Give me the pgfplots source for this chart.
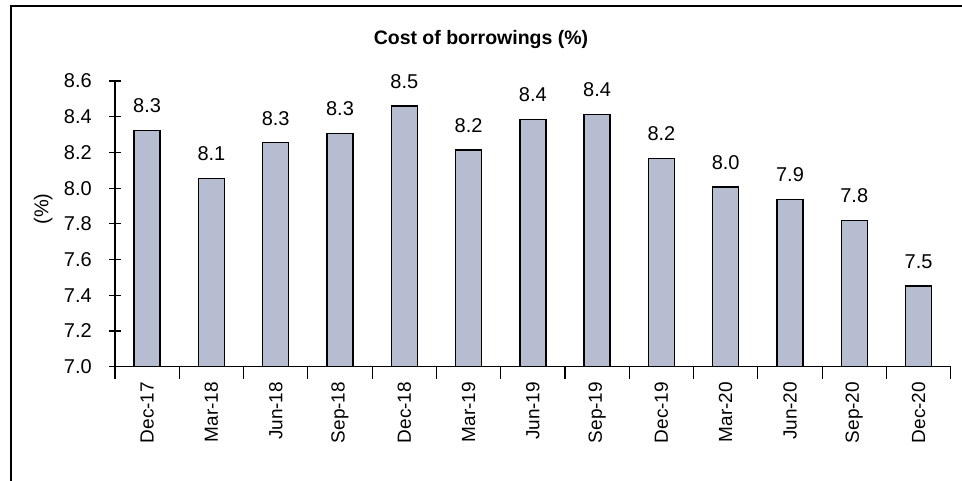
\documentclass[border=0pt]{standalone}
\usepackage{pgfplots}
\pgfplotsset{compat=1.18}
\usepackage{fontspec}
\setmainfont{Liberation Sans}
\definecolor{barfill}{RGB}{183,189,209}
\begin{document}
\begin{tikzpicture}[x=1pt,y=1pt]
\useasboundingbox (0,0) rectangle (962,480);
\draw[line width=1.5pt] (11,-10) -- (11,474) -- (975,474);
\node[font=\fontsize{19.5}{22}\selectfont\bfseries] at (481,440) {Cost of borrowings (\%)};
\begin{axis}[
  at={(115pt,113.3pt)}, anchor=south west,
  scale only axis, width=835.7pt, height=285.7pt,
  xmin=-0.5, xmax=12.5, ymin=7.0, ymax=8.6,
  axis x line=bottom, axis y line=left,
  axis line style={-, line width=1.2pt},
  every tick/.style={black, line width=1.2pt},
  xtick={-0.5,0.5,...,12.5}, xticklabels={},
  extra x ticks={0,...,12},
  extra x tick labels={Dec-17,Mar-18,Jun-18,Sep-18,Dec-18,Mar-19,Jun-19,Sep-19,Dec-19,Mar-20,Jun-20,Sep-20,Dec-20},
  extra x tick style={major tick length=0pt, tick style={draw=none},
    xticklabel style={rotate=90, anchor=east, font=\fontsize{19}{22}\selectfont, inner sep=0pt, xshift=-15pt}},
  ytick={7.0,7.2,...,8.6}, major tick length=12pt,
  yticklabel style={font=\fontsize{20}{22}\selectfont, inner sep=0pt, xshift=-17pt, /pgf/number format/.cd, fixed, fixed zerofill, precision=1, assume math mode=true},
  ylabel={(\%)}, ylabel style={font=\fontsize{20}{22}\selectfont, at={(axis description cs:-0.086,0.552)}, anchor=center},
  tick align=center,
  ybar, bar width=26pt,
  nodes near coords,
  nodes near coords style={font=\fontsize{20}{22}\selectfont, anchor=south, inner sep=0pt, yshift=16.5pt, /pgf/number format/.cd, fixed, fixed zerofill, precision=1, assume math mode=true},
  clip=false,
]
\addplot[fill=barfill, draw=black, line width=1.4pt] coordinates {
(0,8.324) (1,8.055) (2,8.255) (3,8.307) (4,8.460) (5,8.214) (6,8.385) (7,8.413) (8,8.167) (9,8.006) (10,7.938) (11,7.820) (12,7.453)};
\end{axis}
\end{tikzpicture}
\end{document}
